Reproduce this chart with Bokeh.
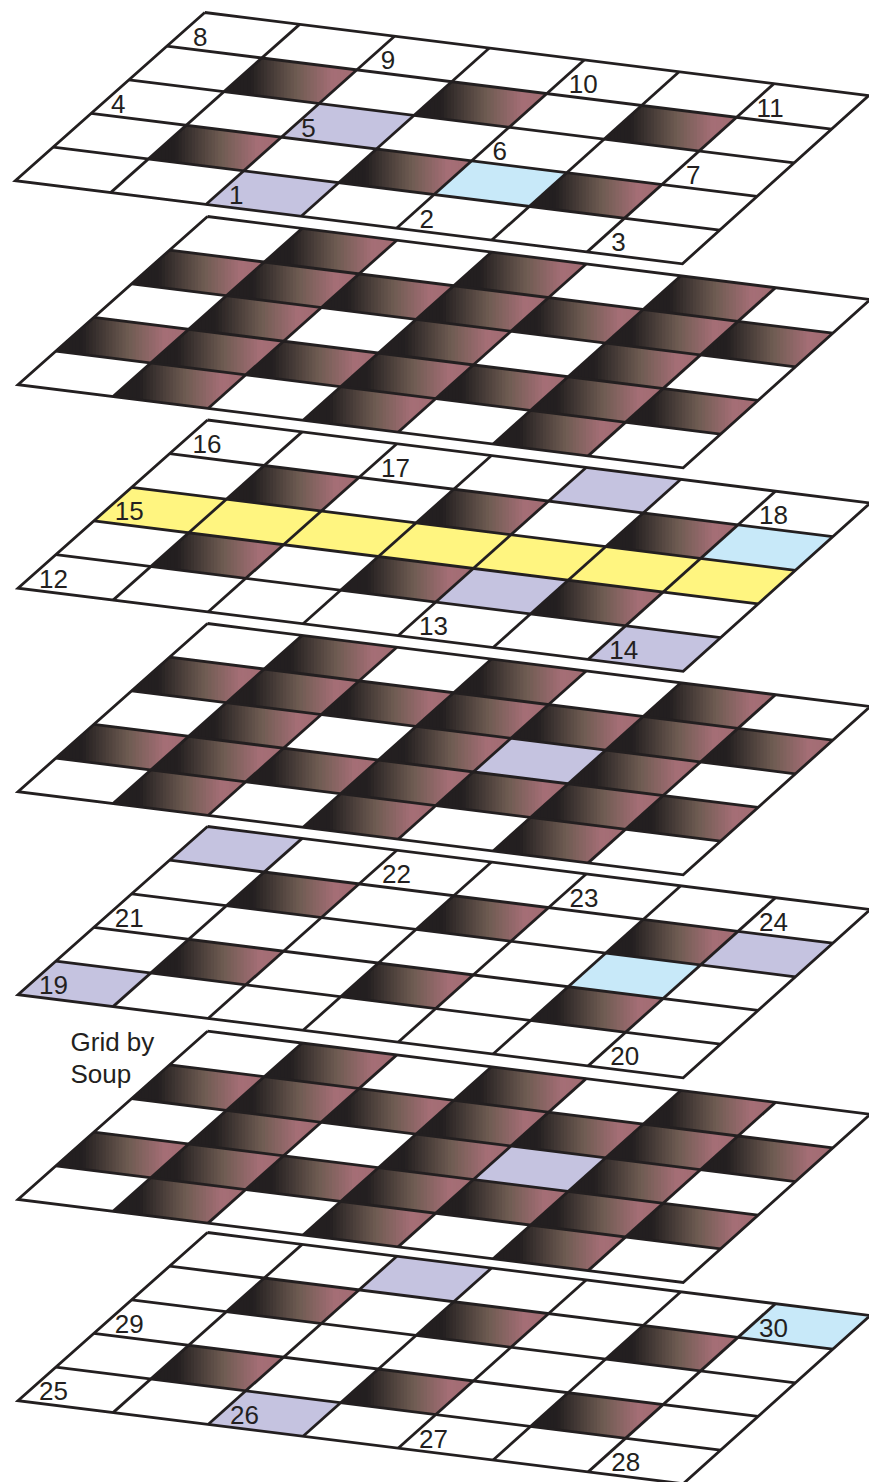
from bokeh.plotting import figure
from bokeh.models import ColumnDataSource, Range1d
from bokeh.core.properties import value
from bokeh.embed import file_html
from bokeh.resources import INLINE

# Cell states, top row first: . white, G gradient, L lavender, B blue, Y yellow
layer_1 = [".......", ".G.G.G.", "..L....", ".G.GBG.", "..L...."]
layer_2 = [".G.G.G.", "GGGGGGG", ".G.G.G.", "GGGGGGG", ".G.G.G."]
layer_3 = ["....L..", ".G.G.GB", "YYYYYYY", ".G.GLG.", "......L"]
layer_4 = [".G.G.G.", "GGGGGGG", ".G.GLG.", "GGGGGGG", ".G.G.G."]
layer_5 = ["L......", ".G.G.GL", ".....B.", ".G.G.G.", "L......"]
layer_6 = [".G.G.G.", "GGGGGGG", ".G.GLG.", "GGGGGGG", ".G.G.G."]
layer_7 = ["..L...B", ".G.G.G.", ".......", ".G.G.G.", "..L...."]
layers = [layer_1, layer_2, layer_3, layer_4, layer_5, layer_6, layer_7]

# Clue numbers: which layer, row and column each one sits in
label_text = [str(n) for n in range(1, 31)]
label_layer = [0,0,0,0,0,0,0,0,0,0,0, 2,2,2,2,2,2,2, 4,4,4,4,4,4, 6,6,6,6,6,6]
label_row   = [4,4,4,2,2,2,2,0,0,0,0, 4,4,4,2,0,0,0, 4,4,2,0,0,0, 4,4,4,4,2,0]
label_col   = [2,4,6,0,2,4,6,0,2,4,6, 0,4,6,0,0,2,6, 0,6,0,2,4,6, 0,2,4,6,0,6]

note_lines = ["Grid by", "Soup"]

flat_colors = {"L": "#c5c3e0", "B": "#c8e9f9", "Y": "#fff580"}
INK = "#231f20"
stops = [(0.0, (35, 31, 32)), (0.2, (35, 31, 32)), (0.55, (111, 92, 82)),
         (0.82, (165, 110, 118)), (1.0, (162, 108, 115))]

# projection of the grid on to the page
origin_x = [204.3, 207, 207, 207, 207, 207, 207]
origin_y = [12, 216, 419.5, 623, 826, 1030.7, 1232]
col_dx_top = [94.86, 94.67, 94.67, 94.67, 94.67, 94.67, 94.67]
col_dx_bottom = [95.31, 95.03, 95.03, 95.03, 95.03, 95.03, 95.03]
COL_DY = 11.86
ROW = (-37.9, 33.65)
N_ROWS, N_COLS, STRIPS = 5, 7, 40

# horizontal start of a clue number inside its cell
LABEL_DX = 21
label_dx = {"8": 26, "9": 24, "1": 23, "2": 23, "3": 24, "7": 24, "4": 20, "5": 20,
            "10": 22, "11": 20, "16": 23, "17": 22, "22": 23, "20": 22, "26": 22, "28": 23}


def project(layer, r, c):
    col_dx = col_dx_top[layer] + (col_dx_bottom[layer] - col_dx_top[layer]) * r / N_ROWS
    return (origin_x[layer] + c * col_dx + r * ROW[0],
            origin_y[layer] + c * COL_DY + r * ROW[1])


def cell_poly(layer, r, c):
    return [project(layer, r, c), project(layer, r, c + 1),
            project(layer, r + 1, c + 1), project(layer, r + 1, c)]


def clip_right_of(poly, x0):
    out = []
    for i, a in enumerate(poly):
        b = poly[(i + 1) % len(poly)]
        if a[0] >= x0:
            out.append(a)
        if (a[0] >= x0) != (b[0] >= x0):
            t = (x0 - a[0]) / (b[0] - a[0])
            out.append((x0, a[1] + t * (b[1] - a[1])))
    return out


def ramp(t):
    for (t0, c0), (t1, c1) in zip(stops, stops[1:]):
        if t <= t1:
            f = (t - t0) / (t1 - t0)
            return "#%02x%02x%02x" % tuple(round(u + f * (v - u)) for u, v in zip(c0, c1))
    return "#%02x%02x%02x" % stops[-1][1]


p = figure(width=869, height=1482, output_backend="svg", toolbar_location=None,
           x_range=Range1d(0, 869), y_range=Range1d(1482, 0),
           min_border=0, outline_line_color=None, background_fill_color="white",
           border_fill_color="white")
p.xaxis.visible = False
p.yaxis.visible = False
p.grid.visible = False
p.styles = {"position": "absolute", "left": "0px", "top": "0px"}

xs, ys, colors = [], [], []
for li, grid in enumerate(layers):
    for r, row in enumerate(grid):
        for c, state in enumerate(row):
            if state == ".":
                continue
            poly = cell_poly(li, r, c)
            if state in flat_colors:
                xs.append([q[0] for q in poly])
                ys.append([q[1] for q in poly])
                colors.append(flat_colors[state])
            else:
                xmin = min(q[0] for q in poly)
                xmax = max(q[0] for q in poly)
                for s in range(STRIPS):
                    part = clip_right_of(poly, xmin + (xmax - xmin) * s / STRIPS)
                    xs.append([q[0] for q in part])
                    ys.append([q[1] for q in part])
                    colors.append(ramp((s + 0.5) / STRIPS))
p.patches(xs="xs", ys="ys", fill_color="colors", line_color=None,
          source=ColumnDataSource(dict(xs=xs, ys=ys, colors=colors)))

lx, ly = [], []
for li in range(len(layers)):
    for r in range(1, N_ROWS):
        a, b = project(li, r, 0), project(li, r, N_COLS)
        lx.append([a[0], b[0]])
        ly.append([a[1], b[1]])
    for c in range(1, N_COLS):
        a, b = project(li, 0, c), project(li, N_ROWS, c)
        lx.append([a[0], b[0]])
        ly.append([a[1], b[1]])
    ring = [project(li, 0, 0), project(li, 0, N_COLS), project(li, N_ROWS, N_COLS),
            project(li, N_ROWS, 0), project(li, 0, 0)]
    lx.append([q[0] for q in ring])
    ly.append([q[1] for q in ring])
p.multi_line(xs=lx, ys=ly, line_color=INK, line_width=2.8, line_join="miter")

tx, ty = [], []
for t, li, r, c in zip(label_text, label_layer, label_row, label_col):
    bl = project(li, r + 1, c)
    tx.append(bl[0] + label_dx.get(t, LABEL_DX))
    ty.append(bl[1] - 9.5)
p.text(x=tx, y=ty, text=label_text, text_font=value("Liberation Sans"),
       text_font_size="26px", text_color=INK, text_align="left", text_baseline="middle")

# credit note sits level with the first two rows of layer 6
nx = [project(5, 0, 0)[0] - 137] * 2
ny = [project(5, 0, 0)[1] + 10.5, project(5, 0, 0)[1] + 42.5]
p.text(x=nx, y=ny, text=note_lines, text_font=value("Liberation Sans"),
       text_font_size="26px", text_color=INK, text_align="left", text_baseline="middle")

open("out.html", "w").write(file_html(p, INLINE))
